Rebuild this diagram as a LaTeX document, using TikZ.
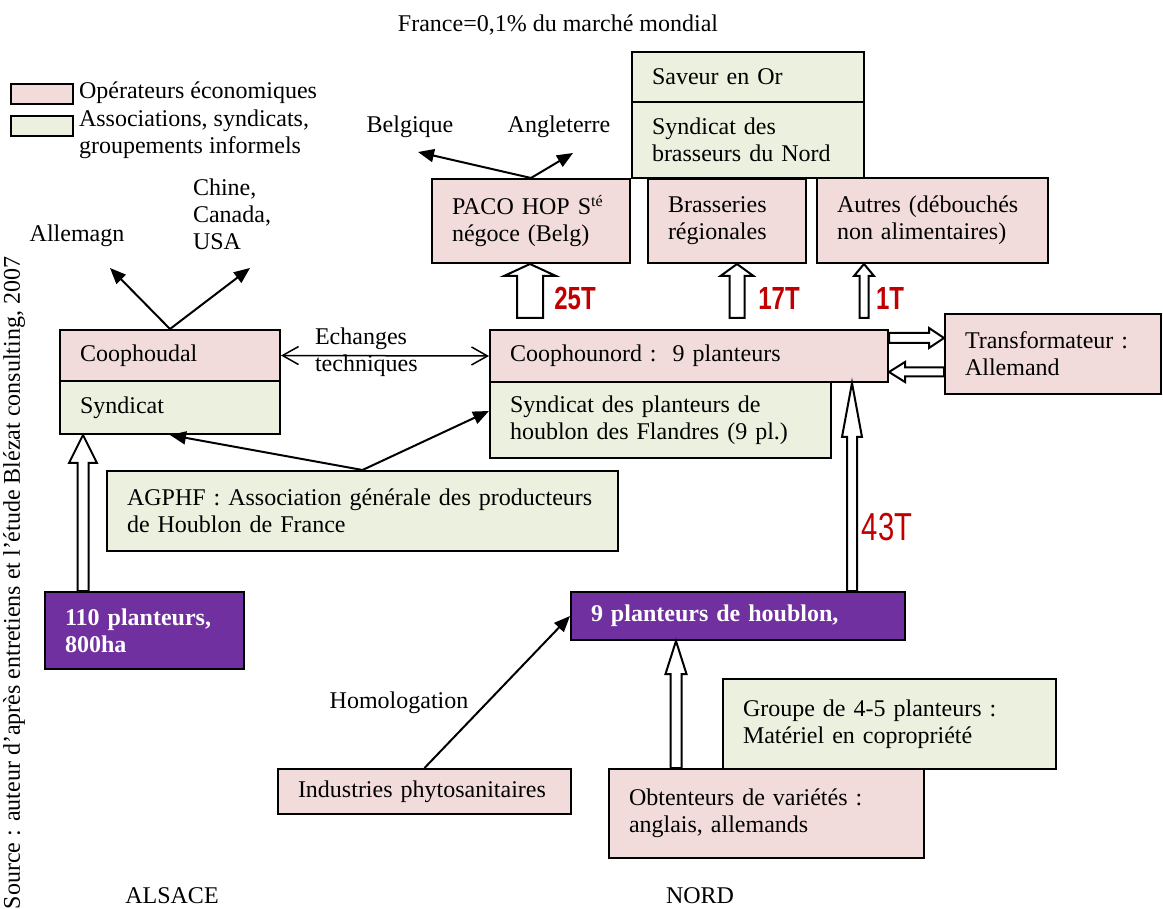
\documentclass[tikz,border=0pt]{standalone}
\usepackage{fontspec}
\setmainfont{Liberation Serif}
\newfontfamily\tonfont[FakeStretch=0.75]{Liberation Sans}
\usetikzlibrary{arrows.meta, positioning, calc}
\definecolor{oppink}{HTML}{F2DCDB}
\definecolor{asgreen}{HTML}{EBF1DE}
\definecolor{plviolet}{HTML}{7030A0}
\definecolor{tonred}{HTML}{C00000}

% hollow block arrow: [style] tail, tip, shaft half width, head half width, head length
\newcommand{\blockarrow}[6][]{%
  \coordinate (bahead) at ($(#3)!#6!(#2)$);
  \draw[blockline,#1] ($(#2)!#4!90:(#3)$) -- ($(bahead)!#4!90:(#3)$)
    -- ($(bahead)!#5!90:(#3)$) -- (#3) -- ($(bahead)!#5!-90:(#3)$)
    -- ($(bahead)!#4!-90:(#3)$) -- ($(#2)!#4!-90:(#3)$) -- cycle;
}

\begin{document}
\begin{tikzpicture}[
  x=0.5pt, y=-0.5pt,
  font=\fontsize{12}{13.5}\selectfont,
  opbox/.style={draw, line width=1pt, fill=oppink, anchor=north west,
    align=left, inner xsep=10pt, inner ysep=0pt},
  asbox/.style={opbox, fill=asgreen},
  plbox/.style={opbox, fill=plviolet, text=white, font=\fontsize{12}{13.5}\selectfont\bfseries},
  legbox/.style={draw, line width=1pt, anchor=north west, inner sep=0pt,
    minimum width=31pt, minimum height=10pt},
  link/.style={line width=1pt, -{Triangle[length=8pt, width=6.5pt]}},
  blockline/.style={draw=black, fill=white, line width=1pt, line join=miter},
  tonnage/.style={text=tonred, font=\tonfont\fontsize{16}{16}\selectfont\bfseries},
]
\useasboundingbox (0,0) rectangle (1163,909);

% Title and side notes
\node (title) at (558,25) {France=0,1\% du marché mondial};
\node[rotate=90] (source) at (14,583)
  {Source : auteur d’après entretiens et l’étude Blézat consulting, 2007};
\node (alsace) at (172,896) {ALSACE};
\node (nord) at (700,896) {NORD};

% Legend
\node[legbox, fill=oppink] (legop) at (10,83) {};
\node[legbox, fill=asgreen] (legas) at (10,115) {};
\node[anchor=west] (legoptext) at (72,93) {Opérateurs économiques};
\node[anchor=west, align=left] (legastext) at (72,134)
  {Associations, syndicats,\\groupements informels};

% === Debouches (top) ===
\node[asbox, text width=96pt, minimum height=25pt] (saveur) at (631,51) {Saveur en Or};
\node[asbox, text width=96pt, minimum height=38pt] (synbras) at (631,101)
  {Syndicat des\\brasseurs du Nord};
\node[opbox, text width=79pt, minimum height=42pt] (paco) at (431,178)
  {PACO HOP S\textsuperscript{té}\\négoce (Belg)};
\node[opbox, text width=59pt, minimum height=42pt] (brass) at (647,178)
  {Brasseries\\régionales};
\node[opbox, text width=95.5pt, minimum height=42.5pt] (autres) at (816,177)
  {Autres (débouchés\\non alimentaires)};

\node (belgique) at (410,127) {Belgique};
\node (angleterre) at (559,127) {Angleterre};
\coordinate (belgtip) at (418,152);
\coordinate (angltip) at (573,153);
\draw[link] (paco.north) -- (belgtip);
\draw[link] (paco.north) -- (angltip);

% === Nord ===
\node[opbox, text width=179pt, minimum height=26pt] (coophounord) at (489,329)
  {Coophounord :\ \ 9 planteurs};
\node[asbox, text width=150.5pt, minimum height=38pt] (synplant) at (489,381)
  {Syndicat des planteurs de\\houblon des Flandres (9 pl.)};
\node[opbox, text width=88pt, minimum height=40pt] (transfo) at (944,313)
  {Transformateur :\\Allemand};

% tonnages towards the buyers
\foreach \buyer/\x/\sh/\hd/\lab/\lx in {paco/530/6.5pt/13pt/25T/575,
    brass/737/3.75pt/8.25pt/17T/779, autres/864/2.25pt/5pt/1T/890} {
  \coordinate (tip-\lab) at (\x,0 |- \buyer.south);
  \coordinate (tail-\lab) at ($(\x,0 |- coophounord.north)+(0,-11)$);
  \blockarrow{tail-\lab}{tip-\lab}{\sh}{\hd}{6pt}
  \node[tonnage] (lab-\lab) at (\lx,298) {\lab};
}

% exchanges with the German processor
\coordinate (toout) at (coophounord.east |- 0,338);
\coordinate (toin) at (transfo.west |- 0,338);
\coordinate (frout) at (transfo.west |- 0,372);
\coordinate (frin) at (coophounord.east |- 0,372);
\blockarrow{toout}{toin}{2.5pt}{5pt}{7.5pt}
\blockarrow{frout}{frin}{2.25pt}{5pt}{8pt}

% === Alsace ===
\node[opbox, text width=90pt, minimum height=25.5pt] (coophoudal) at (59,329) {Coophoudal};
\node[asbox, text width=90pt, minimum height=26.5pt] (synalsace) at (59,380) {Syndicat};

\node (allemagn) at (77,236) {Allemagn};
\node[anchor=west, align=left] (chine) at (186,214) {Chine,\\Canada,\\USA};
\coordinate (alltip) at (110,268);
\coordinate (chinetip) at (250,268);
\draw[link] (coophoudal.north) -- (alltip);
\draw[link] (coophoudal.north) -- (chinetip);

\draw[line width=0.75pt, {Straight Barb[length=8pt, width=9pt]}-{Straight Barb[length=8pt, width=9pt]}]
  (coophoudal.east) -- (coophounord.west);
\node[anchor=west, align=left] (echanges) at (308,352) {Echanges\\techniques};

% AGPHF
\node[asbox, text width=235.5pt, minimum height=40pt] (agphf) at (106,470)
  {AGPHF : Association générale des producteurs\\de Houblon de France};
\draw[link] (agphf.north) -- (synalsace.south);
\draw[link] (agphf.north) -- ($(synplant.west)+(0,-9)$);

% === Producers ===
\node[plbox, text width=79.5pt, minimum height=38.5pt] (alsplant) at (44,591)
  {110 planteurs,\\800ha};
\node[plbox, text width=147pt, minimum height=24pt] (nordplant) at (570,591)
  {9 planteurs de houblon,};

\coordinate (alstail) at ($(alsplant.north)+(-61.5,0)$);
\coordinate (alstip) at (alstail |- synalsace.south);
\blockarrow{alstail}{alstip}{2.75pt}{7pt}{14pt}

\coordinate (nordtail) at ($(nordplant.north)+(114,0)$);
\coordinate (nordtip) at (nordtail |- coophounord.south);
\blockarrow{nordtail}{nordtip}{2.5pt}{5pt}{27pt}
\node[tonnage, font=\tonfont\fontsize{19.5}{19.5}\selectfont] (lab-43T) at (887,527) {43T};

% suppliers
\node[asbox, text width=146.5pt, minimum height=45pt] (groupe) at (722,678)
  {Groupe de 4-5 planteurs :\\Matériel en copropriété};
\node[opbox, text width=137.5pt, minimum height=44.5pt] (obtent) at (608,768)
  {Obtenteurs de variétés :\\anglais, allemands};
\node[opbox, text width=126.5pt, minimum height=22.5pt] (indus) at (277,768)
  {Industries phytosanitaires};

\coordinate (obttail) at (676,0 |- obtent.north);
\coordinate (obttip) at (676,0 |- nordplant.south);
\blockarrow{obttail}{obttip}{2.75pt}{5.25pt}{16.5pt}

\draw[link] (indus.north) -- (nordplant.west);
\node (homolog) at (399,703) {Homologation};

\end{tikzpicture}
\end{document}
